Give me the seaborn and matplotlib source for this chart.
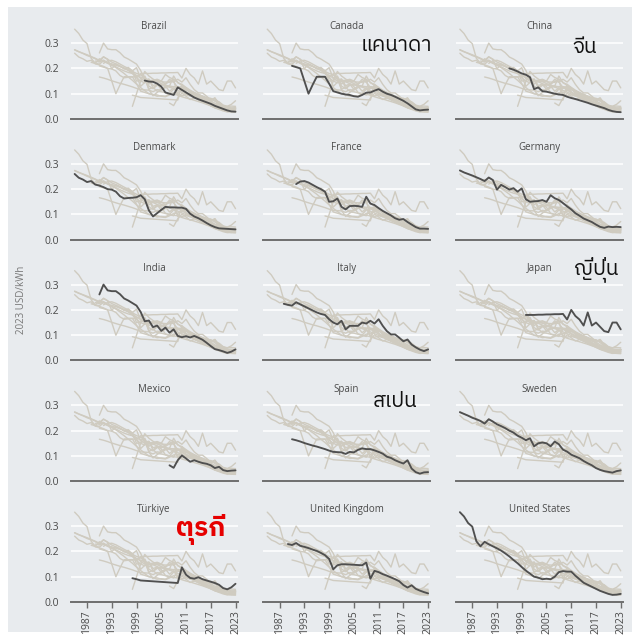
import numpy as np
import pandas as pd
import matplotlib
matplotlib.use("Agg")
import matplotlib.pyplot as plt
import seaborn as sns
from matplotlib import font_manager
from matplotlib.ft2font import FT2Font

# Cost per country, 2023 USD/kWh (first year of data, then one value per year to 2023)
countries = ["Brazil", "Canada", "China", "Denmark", "France", "Germany",
             "India", "Italy", "Japan", "Mexico", "Spain", "Sweden",
             "Türkiye", "United Kingdom", "United States"]

brazil = [0.152, 0.148, 0.147, 0.140, 0.128, 0.105, 0.100, 0.095, 0.125, 0.115,
          0.105, 0.095, 0.085, 0.078, 0.072, 0.066, 0.060, 0.052, 0.046, 0.040,
          0.034, 0.030, 0.029]
canada = [0.210, 0.205, 0.200, 0.150, 0.100, 0.135, 0.167, 0.167, 0.167, 0.140,
          0.110, 0.105, 0.100, 0.097, 0.095, 0.090, 0.088, 0.095, 0.104, 0.105,
          0.112, 0.118, 0.108, 0.100, 0.095, 0.088, 0.080, 0.072, 0.062, 0.050,
          0.038, 0.034, 0.036, 0.037]
china = [0.200, 0.195, 0.188, 0.180,
         0.175, 0.165, 0.118, 0.125, 0.110, 0.108, 0.104, 0.100, 0.097, 0.095,
         0.088, 0.083, 0.079, 0.074, 0.069, 0.064, 0.058, 0.053, 0.048, 0.043,
         0.036, 0.031, 0.028, 0.027]
denmark = [0.260, 0.245, 0.238, 0.228, 0.232, 0.218, 0.214, 0.208, 0.200, 0.198,
           0.190, 0.172, 0.163, 0.165, 0.166, 0.168, 0.176, 0.160, 0.116, 0.092,
           0.105, 0.118, 0.130, 0.128, 0.128, 0.127, 0.127, 0.122, 0.103, 0.092,
           0.085, 0.076, 0.066, 0.057, 0.050, 0.045, 0.044, 0.043, 0.042, 0.041]
france = [0.220, 0.230, 0.232, 0.226, 0.217, 0.208, 0.200, 0.190, 0.150, 0.152,
          0.163, 0.130, 0.120, 0.133, 0.134, 0.133, 0.130, 0.170, 0.143, 0.137,
          0.125, 0.114, 0.105, 0.096, 0.085, 0.079, 0.082, 0.070, 0.060, 0.050,
          0.044, 0.044, 0.043]
germany = [0.274, 0.266, 0.260, 0.254, 0.247, 0.240, 0.232, 0.246, 0.236, 0.198,
           0.217, 0.208, 0.198, 0.204, 0.190, 0.203, 0.160, 0.150, 0.152, 0.153,
           0.157, 0.150, 0.176, 0.164, 0.157, 0.145, 0.132, 0.120, 0.105, 0.095,
           0.084, 0.077, 0.070, 0.060, 0.051, 0.047, 0.052, 0.050, 0.051, 0.050]
india = [0.261, 0.300, 0.277, 0.274, 0.274, 0.262, 0.245, 0.237, 0.227, 0.217,
         0.192, 0.155, 0.158, 0.132, 0.138, 0.117, 0.130, 0.110, 0.123, 0.097,
         0.092, 0.096, 0.091, 0.097, 0.090, 0.082, 0.070, 0.057, 0.045, 0.041,
         0.036, 0.030, 0.035, 0.044]
italy = [0.224, 0.220, 0.217, 0.230, 0.222, 0.214, 0.206, 0.198, 0.190, 0.184,
         0.180, 0.163, 0.150, 0.143, 0.157, 0.123, 0.137, 0.137, 0.137, 0.150,
         0.146, 0.157, 0.146, 0.163, 0.137, 0.116, 0.103, 0.103, 0.090, 0.076,
         0.083, 0.063, 0.052, 0.043, 0.037, 0.044]
japan = [0.180, 0.180, 0.180, 0.181, 0.181, 0.182, 0.182, 0.183, 0.183, 0.184,
         0.162, 0.200, 0.176, 0.162, 0.138, 0.190, 0.138, 0.150, 0.133, 0.116,
         0.112, 0.150, 0.150, 0.123]
mexico = [0.063, 0.053, 0.083, 0.102, 0.090, 0.077, 0.083, 0.077, 0.072, 0.069,
          0.063, 0.052, 0.057, 0.044, 0.040, 0.042, 0.043]
spain = [0.166, 0.162, 0.157, 0.151, 0.146, 0.141, 0.137, 0.132, 0.127, 0.121,
         0.116, 0.115, 0.114, 0.108, 0.116, 0.114, 0.124, 0.130, 0.127, 0.127,
         0.122, 0.116, 0.109, 0.097, 0.092, 0.083, 0.076, 0.070, 0.083, 0.050,
         0.036, 0.030, 0.035, 0.036]
sweden = [0.273, 0.266, 0.259, 0.251, 0.245, 0.238, 0.228, 0.245, 0.236, 0.225,
          0.218, 0.210, 0.200, 0.192, 0.180, 0.172, 0.162, 0.170, 0.138, 0.150,
          0.153, 0.150, 0.138, 0.157, 0.146, 0.125, 0.117, 0.105, 0.098, 0.091,
          0.080, 0.071, 0.063, 0.052, 0.045, 0.040, 0.037, 0.034, 0.040, 0.043]
turkiye = [0.094, 0.090, 0.085,
           None, None, None, None, None, None, None, None,
           0.075, 0.137, 0.108, 0.095, 0.092, 0.098, 0.090, 0.085, 0.080, 0.075,
           0.068, 0.055, 0.050, 0.058, 0.072]
uk = [0.229, 0.225, 0.233, 0.222, 0.218, 0.213, 0.207, 0.202, 0.194, 0.185,
      0.170, 0.129, 0.145, 0.149, 0.149, 0.148, 0.147, 0.146, 0.145, 0.156,
      0.092, 0.123, 0.118, 0.110, 0.104, 0.097, 0.090, 0.082, 0.067, 0.057,
      0.066, 0.052, 0.045, 0.039, 0.034]
us = [0.355, 0.338, 0.312, 0.298, 0.240, 0.220, 0.238, 0.228, 0.220, 0.212,
      0.203, 0.192, 0.180, 0.166, 0.153, 0.138, 0.124, 0.112, 0.100, 0.096,
      0.090, 0.092, 0.090, 0.100, 0.118, 0.122, 0.120, 0.120, 0.104, 0.090,
      0.076, 0.068, 0.060, 0.052, 0.044, 0.038, 0.032, 0.028, 0.029, 0.032]
# one more grey background line that is never highlighted
other = [0.050, 0.100, 0.150, 0.188, 0.170, 0.158, 0.148, 0.140, 0.133, 0.126,
         0.120, 0.113, 0.106, 0.099, 0.091, 0.084, 0.077, 0.070, 0.064, 0.058,
         0.053, 0.049, 0.045, 0.042, 0.040, 0.039]

series_names = countries + ["Other"]
series = [brazil, canada, china, denmark, france, germany, india, italy, japan,
          mexico, spain, sweden, turkiye, uk, us, other]
start_years = [2001, 1990, 1996, 1984, 1991, 1984, 1990, 1988, 2000,
               2007, 1990, 1984, 1998, 1989, 1984, 1998]

# Thai annotations written on top of some panels
thai_labels = {"Canada": "แคนาดา", "China": "จีน", "Japan": "ญี่ปุ่น",
               "Spain": "สเปน", "Türkiye": "ตุรกี"}

year_ticks = [1987, 1993, 1999, 2005, 2011, 2017, 2023]
y_ticks = [0.0, 0.1, 0.2, 0.3]

frames = []
for name, vals, start in zip(series_names, series, start_years):
    assert len(vals) == 2024 - start, name
    frames.append(pd.DataFrame({"country": name,
                                "year": np.arange(start, 2024),
                                "value": pd.to_numeric(pd.Series(vals), errors="coerce")}))
df = pd.concat(frames).dropna()


def thai_font():
    # pick any installed font that actually has Thai glyphs
    fallback = None
    for f in font_manager.fontManager.ttflist:
        try:
            cmap = FT2Font(f.fname).get_charmap()
        except Exception:
            continue
        if ord("ค") in cmap and ord("ี") in cmap:
            if "thai" in f.name.lower() and "looped" not in f.name.lower():
                return f.name
            fallback = fallback or f.name
    return fallback or "DejaVu Sans"


BG = "#e8ebee"
GREY = "#cfcbc0"
DARK = "#4f4f4f"
TEXT = "#4a4a4a"

sns.set_theme(style="white")
plt.rcParams["font.family"] = ["Open Sans", "DejaVu Sans"]
thai_family = thai_font()

fig = plt.figure(figsize=(6.37, 6.40), dpi=100, facecolor="white")
fig.patches.append(plt.Rectangle((8 / 637, 8 / 640), 624 / 637, 625 / 640,
                                 transform=fig.transFigure, facecolor=BG,
                                 edgecolor="none", zorder=-10))
gs = fig.add_gridspec(5, 3, left=0.1107, right=0.9777, bottom=0.0594, top=0.9722,
                      wspace=0.153, hspace=0.193)

label_pos = {"Canada": (0.80, 0.73), "China": (0.77, 0.71), "Japan": (0.84, 0.90),
             "Spain": (0.79, 0.79), "Türkiye": (0.78, 0.72)}

for i, name in enumerate(countries):
    r, c = divmod(i, 3)
    ax = fig.add_subplot(gs[r, c])
    ax.set_facecolor("none")
    for y in y_ticks[1:]:
        ax.axhline(y, color="white", lw=1.1, zorder=0)

    sns.lineplot(data=df[df.country != name], x="year", y="value", units="country",
                 estimator=None, color=GREY, lw=1.0, ax=ax, legend=False)
    sns.lineplot(data=df[df.country == name], x="year", y="value",
                 color=DARK, lw=1.35, ax=ax, legend=False)

    ax.set_xlim(1983, 2023.5)
    ax.set_ylim(0, 0.40)
    ax.set_xlabel("")
    ax.set_ylabel("")
    for s in ["top", "right", "left"]:
        ax.spines[s].set_visible(False)
    ax.spines["bottom"].set_color("#6e6e6e")
    ax.spines["bottom"].set_linewidth(1.4)

    ax.set_yticks(y_ticks)
    if c == 0:
        ax.set_yticklabels([f"{v:.1f}" for v in y_ticks], color=TEXT, fontsize=7.5)
    else:
        ax.set_yticklabels([])
    ax.tick_params(axis="y", length=0, pad=8)

    ax.set_xticks(year_ticks)
    if r == 4:
        ax.set_xticklabels([str(y) for y in year_ticks], rotation=90,
                           color=TEXT, fontsize=7.5)
        ax.tick_params(axis="x", length=4, width=1, color="#6e6e6e",
                       direction="out", pad=2, bottom=True)
    else:
        ax.set_xticklabels([])
        ax.tick_params(axis="x", length=0)

    ax.text(0.5, 0.91, name, transform=ax.transAxes, ha="center", va="center",
            fontsize=7, color=TEXT)

    if name in thai_labels:
        red = name == "Türkiye"
        ax.text(*label_pos[name], thai_labels[name], transform=ax.transAxes,
                ha="center", va="center", fontsize=19 if red else 15,
                family=[thai_family, "DejaVu Sans"],
                color="#e60000" if red else "#111111",
                fontweight="bold" if red else "normal")

fig.text(22 / 637, 1 - 300 / 640, "2023 USD/kWh", rotation=90, ha="center",
         va="center", fontsize=7, color="#777777")

fig.savefig("out.png", dpi=100, facecolor="white")
